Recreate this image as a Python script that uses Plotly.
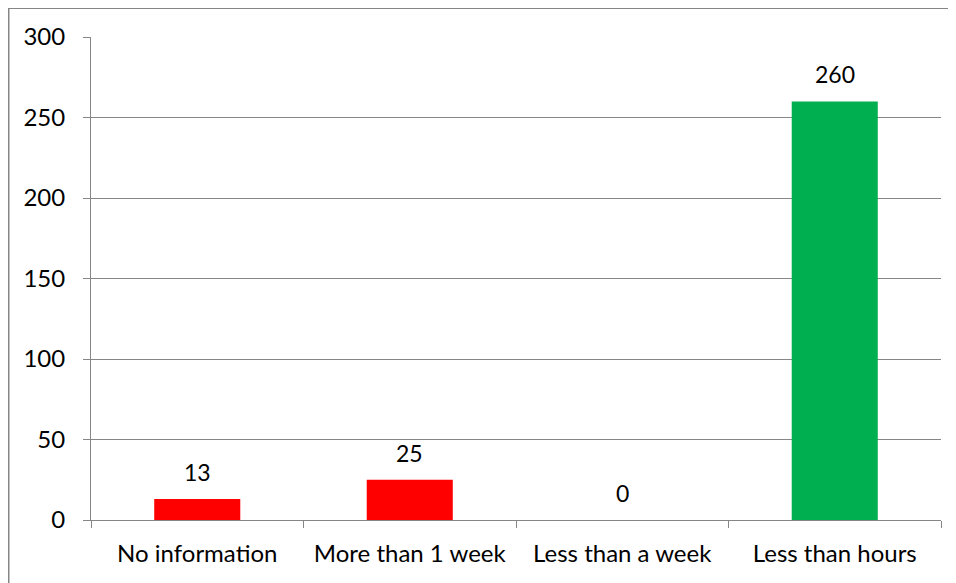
import plotly.graph_objects as go

categories = ["No information", "More than 1 week", "Less than a week", "Less than hours"]
values = [13, 25, 0, 260]
bar_colors = ["#FF0000", "#FF0000", "#FF0000", "#00B050"]
y_ticks = [0, 50, 100, 150, 200, 250, 300]

FONT = "Lato"
GRAY = "#868686"
FS = 24

# page body adds an 8px offset; margins below are in figure coordinates
W, H = 956, 583
L, R, T, B = 83, 23, 29, 71
pw, ph = W - L - R, H - T - B

fig = go.Figure()
fig.add_trace(go.Bar(
    x=categories, y=values, marker=dict(color=bar_colors, line=dict(width=0)),
    width=0.405, hoverinfo="skip",
))

for c, v in zip(categories, values):
    fig.add_annotation(x=c, y=v, text=str(v), showarrow=False, yanchor="bottom",
                       yshift=11, font=dict(family=FONT, size=FS - 1, color="black"))

fig.add_shape(type="rect", xref="paper", yref="paper",
              x0=(0.75 - L) / pw, x1=(W + 20 - L) / pw,
              y0=-(H + 20 - T - ph) / ph, y1=(H - B - 0.25) / ph,
              line=dict(color=GRAY, width=1.5), fillcolor="rgba(0,0,0,0)", layer="below")

fig.update_layout(
    width=W, height=H,
    margin=dict(l=L, r=R, t=T, b=B, pad=0),
    paper_bgcolor="white", plot_bgcolor="white",
    showlegend=False,
    font=dict(family=FONT, size=FS, color="black"),
    xaxis=dict(
        type="category", tickson="boundaries", ticks="outside", ticklen=7,
        tickcolor=GRAY, tickwidth=1, showgrid=False, showline=True,
        linecolor=GRAY, linewidth=1, zeroline=False,
        tickfont=dict(family=FONT, size=FS, color="black"),
        ticklabelstandoff=12,
    ),
    yaxis=dict(
        range=[0, 300], tickvals=y_ticks, ticks="outside", ticklen=7,
        tickcolor=GRAY, tickwidth=1, showgrid=True, gridcolor=GRAY, gridwidth=1,
        showline=True, linecolor=GRAY, linewidth=1, zeroline=False,
        tickfont=dict(family=FONT, size=FS, color="black"),
        ticklabelstandoff=13,
    ),
)

fig.write_html("out.html")
